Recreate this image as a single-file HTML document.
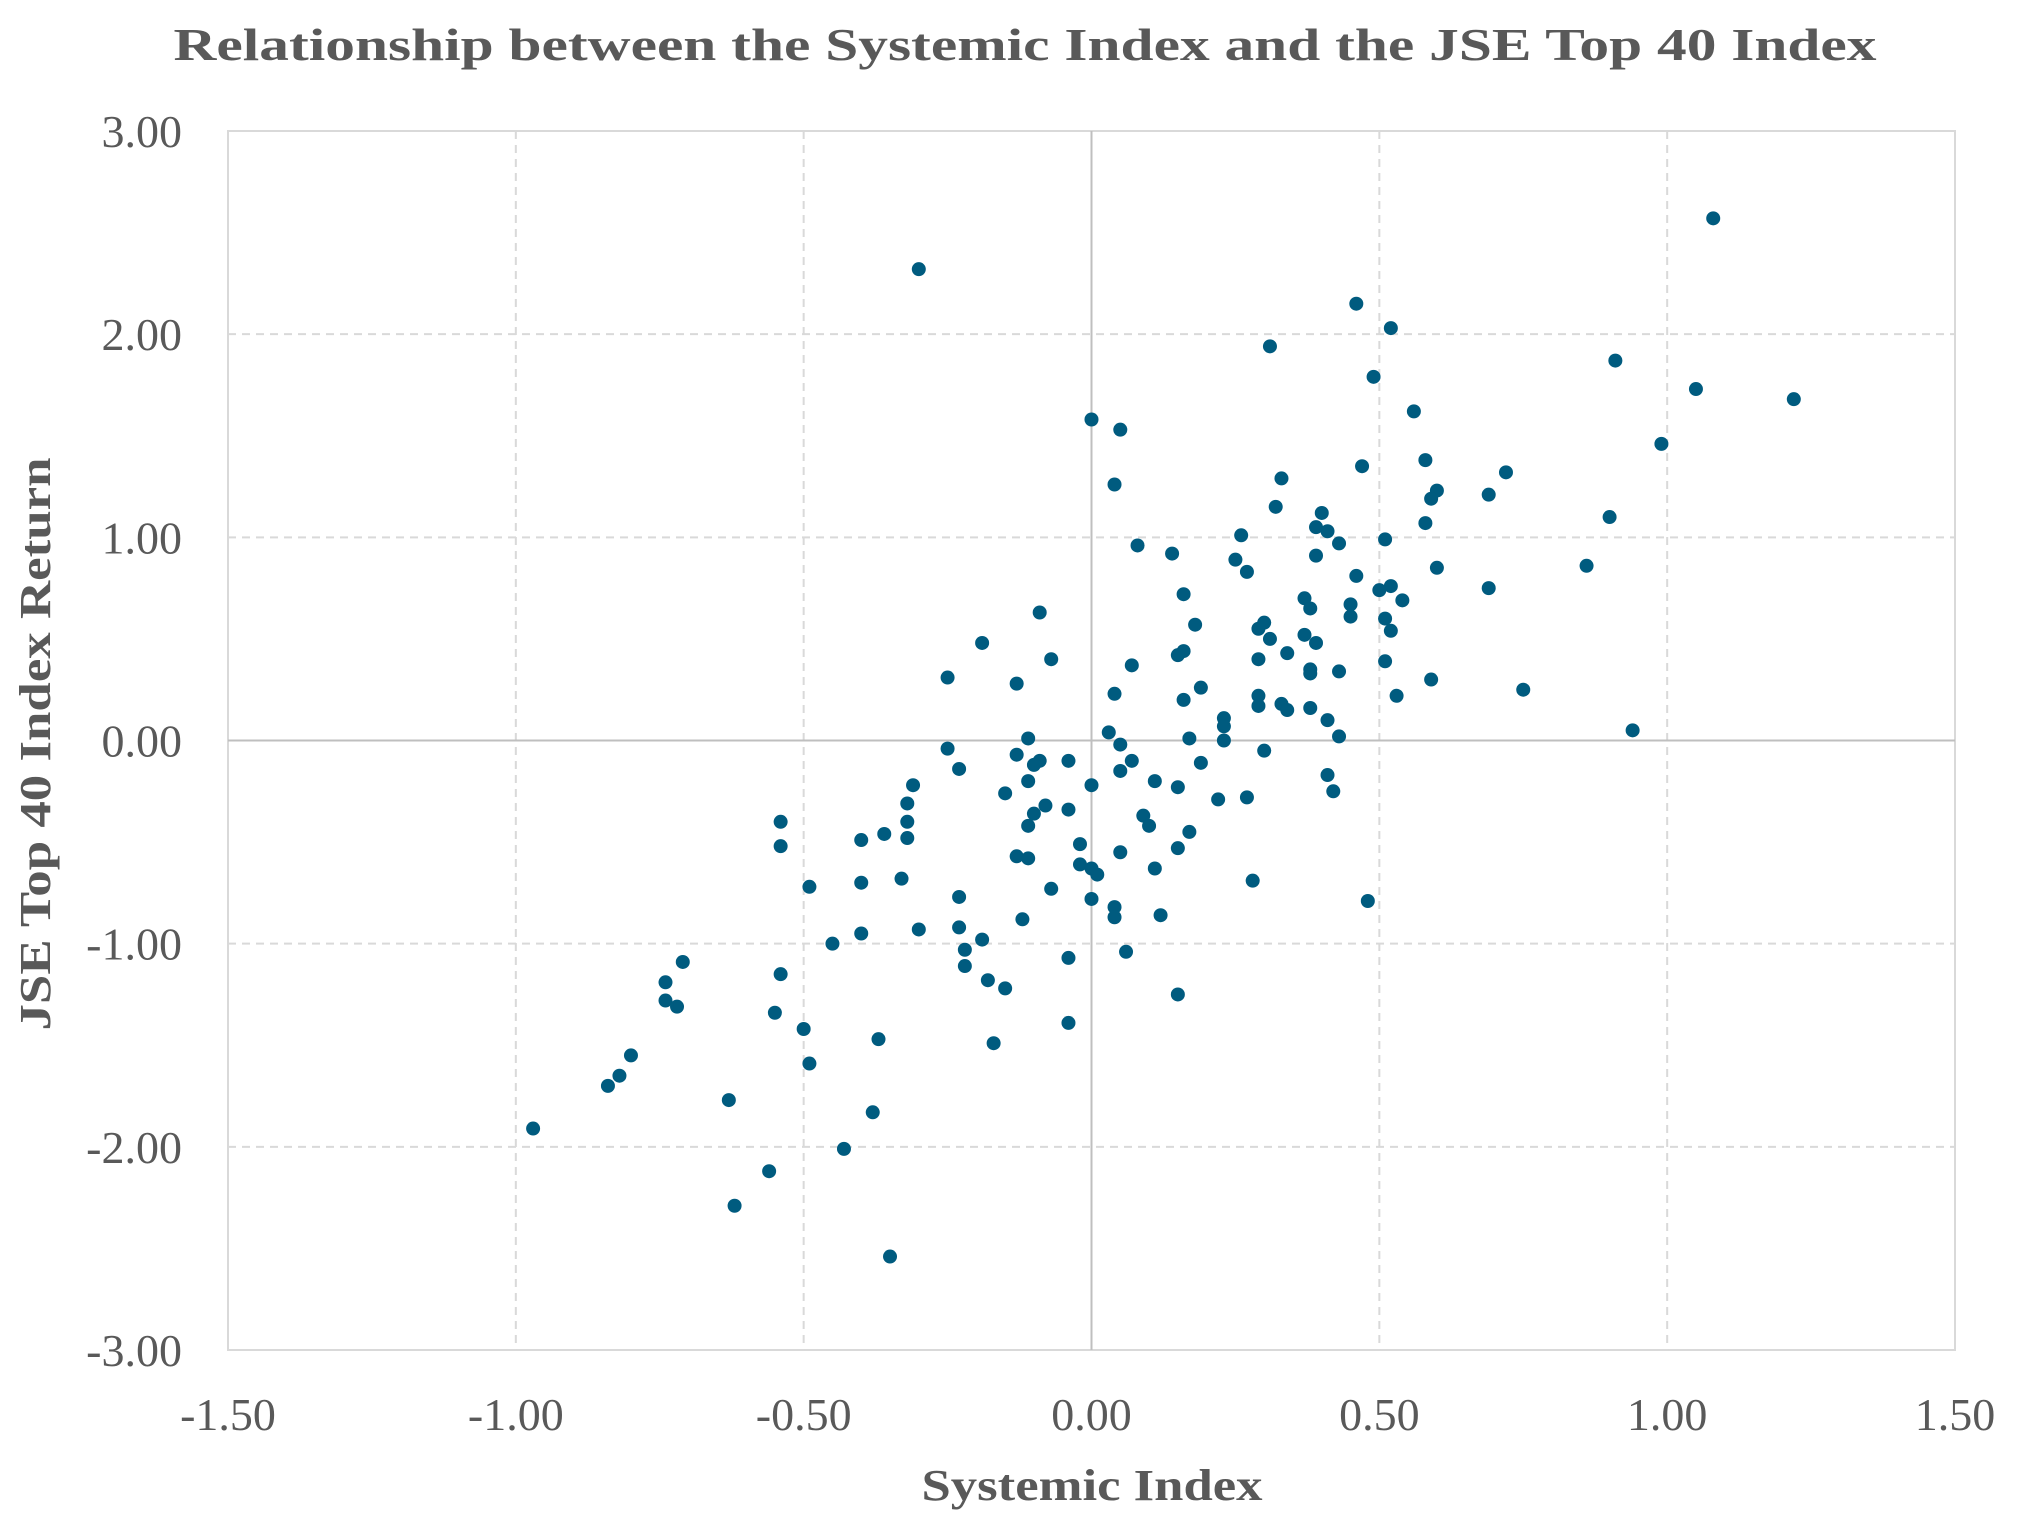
<!DOCTYPE html>
<html><head><meta charset="utf-8"><style>
html,body{margin:0;padding:0;background:#fff;}
svg{display:block;font-family:"Liberation Serif",serif;}
</style></head><body>
<svg id="chart" width="2020" height="1532" viewBox="0 0 2020 1532">
<text x="1025" y="60" text-anchor="middle" font-size="46" font-weight="bold" fill="#595959" textLength="1703" lengthAdjust="spacingAndGlyphs">Relationship between the Systemic Index and the JSE Top 40 Index</text>
<g id="grid"></g>
<g id="axes"></g>
<g id="points"></g>
<text x="1092" y="1500" text-anchor="middle" font-size="44" font-weight="bold" fill="#595959" textLength="341" lengthAdjust="spacingAndGlyphs">Systemic Index</text>
<text transform="translate(50,744) rotate(-90)" text-anchor="middle" font-size="44" font-weight="bold" fill="#595959" textLength="573" lengthAdjust="spacingAndGlyphs">JSE Top 40 Index Return</text>
</svg>
<script>
const xTicks=[-1.5,-1.0,-0.5,0,0.5,1.0,1.5];
const yTicks=[-3,-2,-1,0,1,2,3];
const xValues=[-0.30,1.08,0.46,0.52,0.31,0.49,0.91,1.05,1.22,0.56,0.00,0.05,0.99,0.58,0.47,0.72,0.33,0.04,0.60,0.69,0.59,0.32,0.40,0.90,0.58,0.39,0.41,0.26,0.51,0.43,0.08,0.14,0.39,0.25,0.86,0.60,0.27,0.46,0.52,0.69,0.50,0.16,0.54,0.37,0.45,0.38,-0.09,0.45,0.51,0.30,0.18,0.29,0.52,0.37,0.31,0.39,-0.19,0.16,0.15,0.34,-0.07,0.29,0.51,0.07,0.38,0.43,0.38,-0.25,0.59,-0.13,0.19,0.75,0.04,0.53,0.29,0.16,0.33,0.29,0.38,0.34,0.23,0.41,0.23,0.94,0.03,0.43,0.17,0.23,-0.11,-0.25,0.05,0.30,-0.13,0.07,-0.09,-0.04,-0.10,0.19,-0.23,0.05,0.41,-0.11,0.11,0.00,-0.31,0.15,0.42,-0.15,0.22,0.27,-0.32,-0.08,-0.04,-0.10,0.09,-0.54,-0.32,-0.11,0.10,0.17,-0.36,-0.32,-0.40,-0.02,-0.54,0.15,0.05,-0.13,-0.11,-0.02,0.00,0.11,0.01,-0.33,0.28,-0.40,-0.49,-0.07,-0.23,0.00,0.04,0.48,0.12,0.04,-0.12,-0.23,-0.30,-0.40,-0.19,-0.45,-0.22,0.06,-0.04,-0.71,-0.22,-0.54,-0.18,-0.74,-0.15,0.15,-0.74,-0.72,-0.55,-0.04,-0.50,-0.37,-0.17,-0.80,-0.49,-0.82,-0.84,-0.63,-0.38,-0.97,-0.43,-0.56,-0.62,-0.35];
const yValues=[2.32,2.57,2.15,2.03,1.94,1.79,1.87,1.73,1.68,1.62,1.58,1.53,1.46,1.38,1.35,1.32,1.29,1.26,1.23,1.21,1.19,1.15,1.12,1.10,1.07,1.05,1.03,1.01,0.99,0.97,0.96,0.92,0.91,0.89,0.86,0.85,0.83,0.81,0.76,0.75,0.74,0.72,0.69,0.70,0.67,0.65,0.63,0.61,0.60,0.58,0.57,0.55,0.54,0.52,0.50,0.48,0.48,0.44,0.42,0.43,0.40,0.40,0.39,0.37,0.35,0.34,0.33,0.31,0.30,0.28,0.26,0.25,0.23,0.22,0.22,0.20,0.18,0.17,0.16,0.15,0.11,0.10,0.07,0.05,0.04,0.02,0.01,0.00,0.01,-0.04,-0.02,-0.05,-0.07,-0.10,-0.10,-0.10,-0.12,-0.11,-0.14,-0.15,-0.17,-0.20,-0.20,-0.22,-0.22,-0.23,-0.25,-0.26,-0.29,-0.28,-0.31,-0.32,-0.34,-0.36,-0.37,-0.40,-0.40,-0.42,-0.42,-0.45,-0.46,-0.48,-0.49,-0.51,-0.52,-0.53,-0.55,-0.57,-0.58,-0.61,-0.63,-0.63,-0.66,-0.68,-0.69,-0.70,-0.72,-0.73,-0.77,-0.78,-0.82,-0.79,-0.86,-0.87,-0.88,-0.92,-0.93,-0.95,-0.98,-1.00,-1.03,-1.04,-1.07,-1.09,-1.11,-1.15,-1.18,-1.19,-1.22,-1.25,-1.28,-1.31,-1.34,-1.39,-1.42,-1.47,-1.49,-1.55,-1.59,-1.65,-1.70,-1.77,-1.83,-1.91,-2.01,-2.12,-2.29,-2.54];
const NS="http://www.w3.org/2000/svg";
const L=228,R=1955,T=131,B=1350;
function sx(v){return L+(v+1.5)/3*(R-L);}
function sy(v){return B-(v+3)/6*(B-T);}
function mk(tag,attrs,parent){const e=document.createElementNS(NS,tag);for(const k in attrs)e.setAttribute(k,attrs[k]);parent.appendChild(e);return e;}
const grid=document.getElementById('grid'),axes=document.getElementById('axes'),pts=document.getElementById('points');
mk('rect',{x:L,y:T,width:R-L,height:B-T,fill:'none',stroke:'#d9d9d9','stroke-width':2},grid);
xTicks.forEach(v=>{
 if(v!==0&&Math.abs(v)<1.5){const g=mk('line',{x1:sx(v),x2:sx(v),y1:T,y2:B,stroke:'#d9d9d9','stroke-width':2,'stroke-dasharray':'8,6'},grid);
 
 }
 const t=mk('text',{x:sx(v),y:1430,'text-anchor':'middle','font-size':46,fill:'#595959'},axes);
 t.textContent=v.toFixed(2);
 
 
});
yTicks.forEach(v=>{
 if(v!==0&&Math.abs(v)<3){const g=mk('line',{x1:L,x2:R,y1:sy(v),y2:sy(v),stroke:'#d9d9d9','stroke-width':2,'stroke-dasharray':'8,6'},grid);
 
 }
 const t=mk('text',{x:182,y:sy(v)+16,'text-anchor':'end','font-size':46,fill:'#595959'},axes);
 t.textContent=v.toFixed(2);
 
 
});
const zx=mk('line',{x1:sx(0),x2:sx(0),y1:T,y2:B,stroke:'#bfbfbf','stroke-width':2},axes);


const zy=mk('line',{x1:L,x2:R,y1:sy(0),y2:sy(0),stroke:'#bfbfbf','stroke-width':2},axes);


xValues.forEach((xv,i)=>{
 const c=mk('circle',{cx:sx(xv),cy:sy(yValues[i]),r:7,fill:'#005b7f'},pts);
 
 
});
</script>
</body></html>
